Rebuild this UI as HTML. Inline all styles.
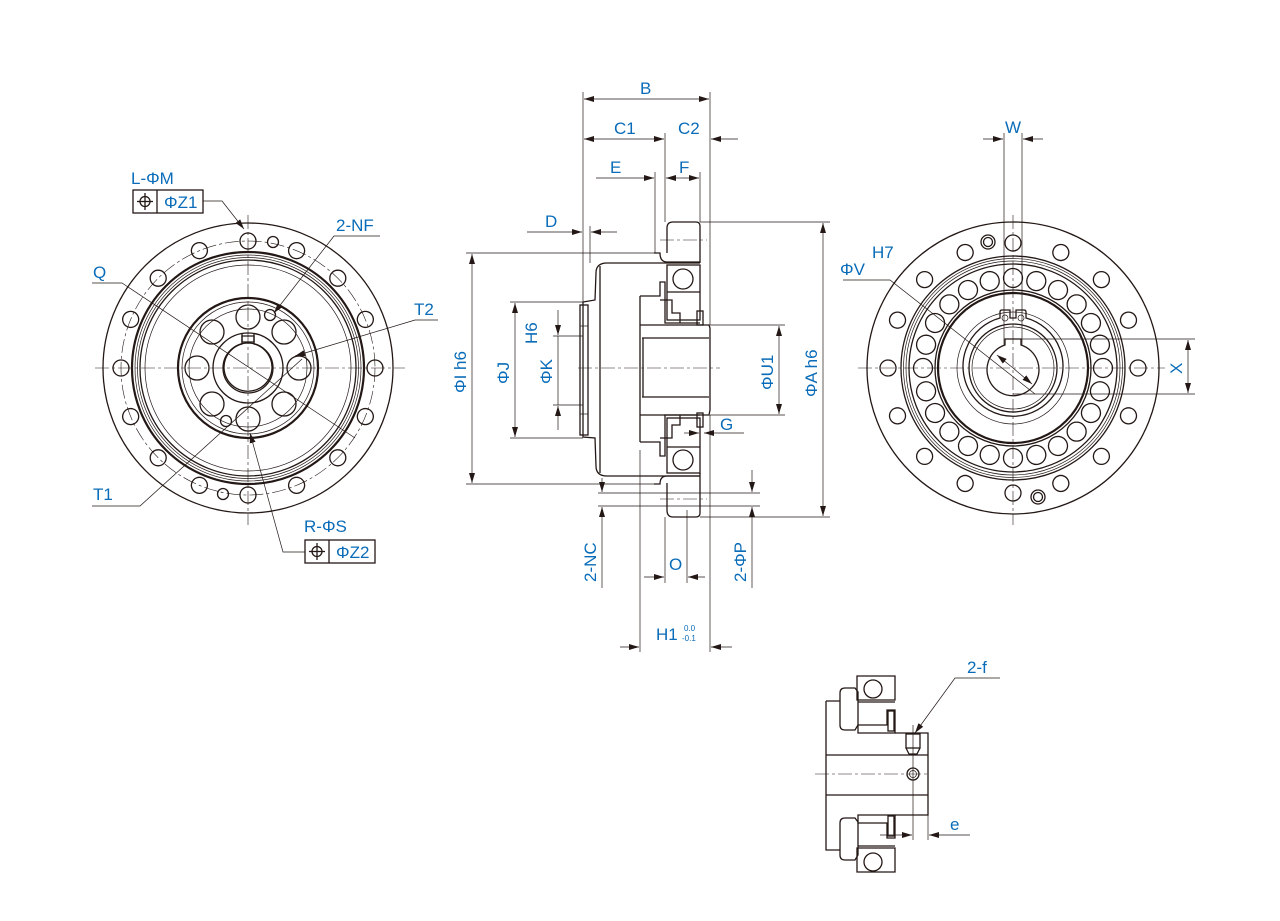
<!DOCTYPE html>
<html><head><meta charset="utf-8"><style>
html,body{margin:0;padding:0;background:#fff;}
svg{display:block}
text{font-family:"Liberation Sans",sans-serif;fill:#0a6cb8;font-size:17px}
.k{stroke:#231815;fill:none;stroke-width:1.3}
.t{stroke:#231815;fill:none;stroke-width:0.7}
.th{stroke:#231815;fill:none;stroke-width:2.2}
.c{stroke:#231815;fill:none;stroke-width:0.6;stroke-dasharray:14 3 3 3}
.d{stroke:#231815;stroke-width:0.7;fill:none}
.a{fill:#231815}
</style></head><body>
<svg width="1280" height="921" viewBox="0 0 1280 921" xmlns="http://www.w3.org/2000/svg">
<defs>
<marker id="ar" viewBox="0 0 10 6" refX="10" refY="3" markerWidth="10" markerHeight="6" orient="auto-start-reverse" markerUnits="userSpaceOnUse"><path d="M0,0 L10,3 L0,6z" fill="#231815"/></marker>
</defs>

<!-- ============ LEFT VIEW ============ -->
<g>
<line class="c" x1="95" y1="368" x2="405" y2="368"/>
<line class="c" x1="248" y1="215" x2="248" y2="525"/>
<circle class="k" cx="248" cy="368" r="145"/>
<circle class="c" cx="248" cy="368" r="127"/>
<g class="k">
<circle cx="248" cy="241" r="8"/>
<g transform="rotate(22.5 248 368)"><circle cx="248" cy="241" r="8"/></g>
<g transform="rotate(45 248 368)"><circle cx="248" cy="241" r="8"/></g>
<g transform="rotate(67.5 248 368)"><circle cx="248" cy="241" r="8"/></g>
<g transform="rotate(90 248 368)"><circle cx="248" cy="241" r="8"/></g>
<g transform="rotate(112.5 248 368)"><circle cx="248" cy="241" r="8"/></g>
<g transform="rotate(135 248 368)"><circle cx="248" cy="241" r="8"/></g>
<g transform="rotate(157.5 248 368)"><circle cx="248" cy="241" r="8"/></g>
<g transform="rotate(180 248 368)"><circle cx="248" cy="241" r="8"/></g>
<g transform="rotate(202.5 248 368)"><circle cx="248" cy="241" r="8"/></g>
<g transform="rotate(225 248 368)"><circle cx="248" cy="241" r="8"/></g>
<g transform="rotate(247.5 248 368)"><circle cx="248" cy="241" r="8"/></g>
<g transform="rotate(270 248 368)"><circle cx="248" cy="241" r="8"/></g>
<g transform="rotate(292.5 248 368)"><circle cx="248" cy="241" r="8"/></g>
<g transform="rotate(315 248 368)"><circle cx="248" cy="241" r="8"/></g>
<g transform="rotate(337.5 248 368)"><circle cx="248" cy="241" r="8"/></g>
<circle cx="273" cy="242" r="5.5"/><circle cx="223" cy="494" r="5.5"/>
</g>
<circle class="th" cx="248" cy="368" r="116"/>
<circle class="t" cx="248" cy="368" r="113"/>
<circle class="t" cx="248" cy="368" r="110.5"/>
<circle class="k" cx="248" cy="368" r="108"/>
<circle class="t" cx="248" cy="368" r="103"/>
<circle class="th" cx="248" cy="368" r="70"/>
<circle class="t" cx="248" cy="368" r="66"/>
<circle class="t" cx="248" cy="368" r="59"/>
<g class="k">
<circle cx="248" cy="317" r="12"/><circle cx="248" cy="419" r="12"/>
<circle cx="197" cy="368" r="12"/><circle cx="299" cy="368" r="12"/>
<circle cx="212" cy="332" r="12"/><circle cx="284" cy="332" r="12"/>
<circle cx="212" cy="404" r="12"/><circle cx="284" cy="404" r="12"/>
<circle cx="270" cy="315" r="5.5"/><circle cx="226" cy="421" r="5.5"/>
</g>
<path class="k" d="M242,334 L242,342 L254,342 L254,334"/>
<circle class="k" cx="248" cy="368" r="35"/>
<path class="k" d="M242,344 A24,24 0 1 0 254,344 L254,336 L242,336z"/>
<circle class="k" cx="248" cy="368" r="25"/>
<path class="d" d="M203,201 L222,201 L244,229" marker-end="url(#ar)"/>
<path class="d" d="M380,236 L334,236 L274,313" marker-end="url(#ar)"/>
<path class="d" d="M92,283 L122,283 L355,438"/>
<path class="d" d="M438,320 L415,320 L295,356" marker-end="url(#ar)"/>
<path class="d" d="M92,506 L140,506 L302,359"/>
<path class="d" d="M305,552 L283,552 L250,433" marker-end="url(#ar)"/>
<text x="131" y="184">L-ΦM</text>
<rect class="k" x="133" y="190" width="70" height="23" stroke-width="1"/>
<line class="k" x1="157" y1="190" x2="157" y2="213" stroke-width="1"/>
<circle class="k" cx="145" cy="201.5" r="5" stroke-width="1"/>
<line class="k" x1="137" y1="201.5" x2="153" y2="201.5" stroke-width="1"/>
<line class="k" x1="145" y1="193" x2="145" y2="210" stroke-width="1"/>
<text x="164" y="208">ΦZ1</text>
<text x="336" y="231">2-NF</text>
<text x="93" y="278">Q</text>
<text x="414" y="315">T2</text>
<text x="93" y="500">T1</text>
<text x="304" y="532">R-ΦS</text>
<rect class="k" x="305" y="540" width="70" height="23" stroke-width="1"/>
<line class="k" x1="329" y1="540" x2="329" y2="563" stroke-width="1"/>
<circle class="k" cx="317" cy="551.5" r="5" stroke-width="1"/>
<line class="k" x1="309" y1="551.5" x2="325" y2="551.5" stroke-width="1"/>
<line class="k" x1="317" y1="543" x2="317" y2="560" stroke-width="1"/>
<text x="336" y="558">ΦZ2</text>
</g>

<!-- ============ MIDDLE VIEW ============ -->
<g>
<line class="c" x1="578" y1="368" x2="720" y2="368"/>
<path class="k" d="M667,253 L667,228 Q667,222 673,222 L696,222 Q700,222 700,226 L700,263"/>
<path class="k" d="M667,483 L667,510 Q667,517 673,517 L696,517 Q700,517 700,513 L700,473"/>
<line class="c" x1="660" y1="240" x2="707" y2="240"/>
<line class="c" x1="660" y1="499" x2="707" y2="499"/>
<path class="k" d="M654,253 L660,253 Q660,262 667,262 L700,262"/>
<path class="k" d="M654,484 L660,484 Q660,476 667,476 L700,476"/>
<path class="k" d="M700,263 L607,263 Q596,263 596,273 L595,300 L583,302 L583,437 L595,438 L596,466 Q596,476 607,476 L700,476"/>
<line class="k" x1="600" y1="266" x2="600" y2="473"/>
<rect class="k" x="580" y="305" width="8" height="130"/>
<line class="t" x1="580" y1="326" x2="588" y2="326"/><line class="t" x1="580" y1="414" x2="588" y2="414"/>
<rect class="k" x="667" y="265" width="33" height="55"/>
<circle class="k" cx="683" cy="279" r="10"/>
<line class="k" x1="667" y1="292" x2="700" y2="292"/>
<path class="k" d="M640,296 L660,296 L660,282 L665,282 L665,323 L700,323"/>
<path class="k" d="M660,300 L672,300 L672,313 L680,313 L680,323"/>
<rect class="k" x="697" y="311" width="6" height="14"/>
<rect class="k" x="667" y="418" width="33" height="55"/>
<circle class="k" cx="683" cy="460" r="10"/>
<line class="k" x1="667" y1="447" x2="700" y2="447"/>
<path class="k" d="M640,442 L660,442 L660,456 L665,456 L665,415 L700,415"/>
<path class="k" d="M660,438 L672,438 L672,425 L680,425 L680,415"/>
<rect class="k" x="697" y="413" width="6" height="14"/>
<path class="k" d="M640,296 L640,442"/>
<path class="k" d="M640,325 L709,325 L710,328 L710,410 L709,415 L640,415"/>
<line class="k" x1="642" y1="338" x2="709" y2="338"/>
<line class="k" x1="642" y1="397" x2="709" y2="397"/>
<line class="k" x1="643" y1="338" x2="643" y2="397"/>
<g class="d">
<line x1="583" y1="92" x2="583" y2="302"/>
<line x1="710" y1="92" x2="710" y2="325"/>
<line x1="710" y1="415" x2="710" y2="652"/>
<line x1="665" y1="133" x2="665" y2="222"/>
<line x1="655" y1="172" x2="655" y2="253"/>
<line x1="700" y1="172" x2="700" y2="222"/>
<line x1="590" y1="226" x2="590" y2="263"/>
<line x1="466" y1="253" x2="654" y2="253"/>
<line x1="466" y1="484" x2="654" y2="484"/>
<line x1="510" y1="302" x2="583" y2="302"/>
<line x1="510" y1="438" x2="583" y2="438"/>
<line x1="553" y1="336" x2="583" y2="336"/>
<line x1="553" y1="405" x2="583" y2="405"/>
<line x1="700" y1="222" x2="830" y2="222"/>
<line x1="700" y1="517" x2="830" y2="517"/>
<line x1="710" y1="325" x2="785" y2="325"/>
<line x1="710" y1="415" x2="785" y2="415"/>
<line x1="640" y1="450" x2="640" y2="652"/>
<line x1="665" y1="517" x2="665" y2="583"/>
<line x1="687" y1="510" x2="687" y2="583"/>
<line x1="598" y1="493" x2="760" y2="493"/>
<line x1="598" y1="506" x2="760" y2="506"/>
</g>
<g class="d" marker-end="url(#ar)">
<line x1="646" y1="99" x2="584" y2="99"/><line x1="646" y1="99" x2="709" y2="99"/>
<line x1="624" y1="139" x2="584" y2="139"/><line x1="624" y1="139" x2="664" y2="139"/>
<line x1="738" y1="139" x2="711" y2="139"/>
<line x1="596" y1="178" x2="654" y2="178"/>
<line x1="682" y1="178" x2="666" y2="178"/><line x1="682" y1="178" x2="699" y2="178"/>
<line x1="527" y1="232" x2="582" y2="232"/><line x1="617" y1="232" x2="591" y2="232"/>
<line x1="472" y1="368" x2="472" y2="254"/><line x1="472" y1="368" x2="472" y2="483"/>
<line x1="515" y1="368" x2="515" y2="303"/><line x1="515" y1="368" x2="515" y2="437"/>
<line x1="558" y1="310" x2="558" y2="335"/><line x1="558" y1="430" x2="558" y2="406"/>
<line x1="779" y1="368" x2="779" y2="326"/><line x1="779" y1="368" x2="779" y2="414"/>
<line x1="823" y1="368" x2="823" y2="223"/><line x1="823" y1="368" x2="823" y2="516"/>
<line x1="684" y1="433" x2="699" y2="433"/><line x1="744" y1="433" x2="704" y2="433"/>
<line x1="602" y1="478" x2="602" y2="492"/><line x1="602" y1="588" x2="602" y2="507"/>
<line x1="752" y1="470" x2="752" y2="492"/><line x1="752" y1="588" x2="752" y2="507"/>
<line x1="644" y1="577" x2="664" y2="577"/><line x1="705" y1="577" x2="688" y2="577"/>
<line x1="620" y1="647" x2="639" y2="647"/><line x1="732" y1="647" x2="711" y2="647"/>
</g>
<line class="d" x1="558" y1="336" x2="558" y2="405"/>
<text x="640" y="94">B</text>
<text x="614" y="134">C1</text>
<text x="678" y="134">C2</text>
<text x="610" y="173">E</text>
<text x="679" y="173">F</text>
<text x="545" y="227">D</text>
<text x="720" y="430">G</text>
<text x="669" y="570">O</text>
<text x="656" y="640">H1</text>
<text x="684" y="631" style="font-size:8px">0.0</text>
<text x="682" y="641" style="font-size:8px">-0.1</text>
<text transform="translate(466,393) rotate(-90)">ΦI h6</text>
<text transform="translate(509,384) rotate(-90)">ΦJ</text>
<text transform="translate(537,344) rotate(-90)">H6</text>
<text transform="translate(552,384) rotate(-90)">ΦK</text>
<text transform="translate(773,390) rotate(-90)">ΦU1</text>
<text transform="translate(817,397) rotate(-90)">ΦA h6</text>
<text transform="translate(596,582) rotate(-90)">2-NC</text>
<text transform="translate(746,582) rotate(-90)">2-ΦP</text>
</g>

<!-- ============ RIGHT VIEW ============ -->
<g>
<line class="c" x1="858" y1="368" x2="1165" y2="368"/>
<line class="c" x1="1013" y1="215" x2="1013" y2="525"/>
<circle class="k" cx="1013" cy="368" r="146"/>
<g class="k">
<circle cx="1013" cy="243" r="8"/>
<g transform="rotate(22.5 1013 368)"><circle cx="1013" cy="243" r="8"/></g>
<g transform="rotate(45 1013 368)"><circle cx="1013" cy="243" r="8"/></g>
<g transform="rotate(67.5 1013 368)"><circle cx="1013" cy="243" r="8"/></g>
<g transform="rotate(90 1013 368)"><circle cx="1013" cy="243" r="8"/></g>
<g transform="rotate(112.5 1013 368)"><circle cx="1013" cy="243" r="8"/></g>
<g transform="rotate(135 1013 368)"><circle cx="1013" cy="243" r="8"/></g>
<g transform="rotate(157.5 1013 368)"><circle cx="1013" cy="243" r="8"/></g>
<g transform="rotate(180 1013 368)"><circle cx="1013" cy="243" r="8"/></g>
<g transform="rotate(202.5 1013 368)"><circle cx="1013" cy="243" r="8"/></g>
<g transform="rotate(225 1013 368)"><circle cx="1013" cy="243" r="8"/></g>
<g transform="rotate(247.5 1013 368)"><circle cx="1013" cy="243" r="8"/></g>
<g transform="rotate(270 1013 368)"><circle cx="1013" cy="243" r="8"/></g>
<g transform="rotate(292.5 1013 368)"><circle cx="1013" cy="243" r="8"/></g>
<g transform="rotate(315 1013 368)"><circle cx="1013" cy="243" r="8"/></g>
<g transform="rotate(337.5 1013 368)"><circle cx="1013" cy="243" r="8"/></g>
<circle cx="988" cy="242" r="7"/><circle cx="988" cy="242" r="4.5"/>
<circle cx="1038" cy="497" r="7"/><circle cx="1038" cy="497" r="4.5"/>
</g>
<circle class="k" cx="1013" cy="368" r="112"/>
<circle class="t" cx="1013" cy="368" r="109.5"/>
<circle class="t" cx="1013" cy="368" r="107"/>
<circle class="k" cx="1013" cy="368" r="104"/>
<circle class="k" cx="1013" cy="368" r="78"/>
<circle class="th" cx="1013" cy="368" r="75"/>
<g class="k">
<circle cx="1013" cy="278" r="9.5"/>
<g transform="rotate(15 1013 368)"><circle cx="1013" cy="278" r="9.5"/></g>
<g transform="rotate(30 1013 368)"><circle cx="1013" cy="278" r="9.5"/></g>
<g transform="rotate(45 1013 368)"><circle cx="1013" cy="278" r="9.5"/></g>
<g transform="rotate(60 1013 368)"><circle cx="1013" cy="278" r="9.5"/></g>
<g transform="rotate(75 1013 368)"><circle cx="1013" cy="278" r="9.5"/></g>
<g transform="rotate(90 1013 368)"><circle cx="1013" cy="278" r="9.5"/></g>
<g transform="rotate(105 1013 368)"><circle cx="1013" cy="278" r="9.5"/></g>
<g transform="rotate(120 1013 368)"><circle cx="1013" cy="278" r="9.5"/></g>
<g transform="rotate(135 1013 368)"><circle cx="1013" cy="278" r="9.5"/></g>
<g transform="rotate(150 1013 368)"><circle cx="1013" cy="278" r="9.5"/></g>
<g transform="rotate(165 1013 368)"><circle cx="1013" cy="278" r="9.5"/></g>
<g transform="rotate(180 1013 368)"><circle cx="1013" cy="278" r="9.5"/></g>
<g transform="rotate(195 1013 368)"><circle cx="1013" cy="278" r="9.5"/></g>
<g transform="rotate(210 1013 368)"><circle cx="1013" cy="278" r="9.5"/></g>
<g transform="rotate(225 1013 368)"><circle cx="1013" cy="278" r="9.5"/></g>
<g transform="rotate(240 1013 368)"><circle cx="1013" cy="278" r="9.5"/></g>
<g transform="rotate(255 1013 368)"><circle cx="1013" cy="278" r="9.5"/></g>
<g transform="rotate(270 1013 368)"><circle cx="1013" cy="278" r="9.5"/></g>
<g transform="rotate(285 1013 368)"><circle cx="1013" cy="278" r="9.5"/></g>
<g transform="rotate(300 1013 368)"><circle cx="1013" cy="278" r="9.5"/></g>
<g transform="rotate(315 1013 368)"><circle cx="1013" cy="278" r="9.5"/></g>
<g transform="rotate(330 1013 368)"><circle cx="1013" cy="278" r="9.5"/></g>
<g transform="rotate(345 1013 368)"><circle cx="1013" cy="278" r="9.5"/></g>
</g>
<circle class="t" cx="1013" cy="368" r="56"/>
<path class="k" d="M1000,318 A50,50 0 1 0 1026,318 L1026,312 Q1026,310 1024,310 L1016,310 L1016,318 L1010,318 L1010,310 L1002,310 Q1000,310 1000,312z"/>
<circle class="t" cx="1005" cy="318" r="3"/><circle class="t" cx="1021" cy="318" r="3"/>
<circle class="k" cx="1013" cy="368" r="44"/>
<circle class="t" cx="1013" cy="368" r="41"/>
<path class="k" d="M1005,345 A26,26 0 1 0 1021,345 L1021,339 L1005,339z"/>
<g class="d">
<line x1="1004" y1="133" x2="1004" y2="345"/>
<line x1="1022" y1="133" x2="1022" y2="345"/>
<line x1="1021" y1="339" x2="1195" y2="339"/>
<line x1="1013" y1="394" x2="1195" y2="394"/>
<path d="M843,280 L890,280 L1035,394"/>
</g>
<g class="d" marker-end="url(#ar)">
<line x1="983" y1="139" x2="1003" y2="139"/><line x1="1043" y1="139" x2="1023" y2="139"/>
<line x1="1188" y1="366" x2="1188" y2="340"/><line x1="1188" y1="366" x2="1188" y2="393"/>
<line x1="1013" y1="368" x2="997" y2="355"/><line x1="1013" y1="368" x2="1032" y2="384"/>
</g>
<text x="1005" y="133">W</text>
<text x="872" y="258">H7</text>
<text x="840" y="275">ΦV</text>
<text transform="translate(1182,374) rotate(-90)">X</text>
</g>

<!-- ============ BOTTOM DETAIL ============ -->
<g>
<line class="c" x1="815" y1="774" x2="930" y2="774"/>
<path class="k" d="M857,676 L895,676 L895,700 L857,700z"/>
<circle class="k" cx="873" cy="689" r="9"/>
<line class="k" x1="858" y1="702" x2="895" y2="702"/>
<path class="k" d="M845,688 L855,688 L858,692 L858,725 L855,730 L845,730 Q840,730 840,725 L840,693 Q840,688 845,688z"/>
<path class="k" d="M858,725 L887,725 L887,710 L895,710 L895,733 L858,733z"/>
<rect class="k" x="888" y="711" width="6" height="20"/>
<path class="k" d="M826,701 L840,701 M826,701 L826,850 L840,850"/>
<line class="k" x1="826" y1="755" x2="928" y2="755"/>
<line class="k" x1="826" y1="795" x2="928" y2="795"/>
<path class="k" d="M895,733 L928,733 L928,815 L895,815"/>
<rect class="k" x="906" y="734" width="14" height="14"/>
<path class="k" d="M906,748 L909,754 L917,754 L920,748"/>
<circle class="k" cx="913" cy="774" r="6"/><circle class="t" cx="913" cy="774" r="3.5"/>
<line class="t" x1="913" y1="725" x2="913" y2="840"/>
<path class="k" d="M845,818 L855,818 L858,822 L858,855 L855,860 L845,860 Q840,860 840,855 L840,823 Q840,818 845,818z"/>
<path class="k" d="M858,823 L887,823 L887,838 L895,838 L895,815 L858,815z"/>
<rect class="k" x="888" y="816" width="6" height="20"/>
<path class="k" d="M857,848 L895,848 L895,872 L857,872z"/>
<circle class="k" cx="873" cy="862" r="9"/>
<line class="k" x1="858" y1="846" x2="895" y2="846"/>
<line class="d" x1="928" y1="815" x2="928" y2="840"/>
<g class="d" marker-end="url(#ar)">
<line x1="880" y1="835" x2="912" y2="835"/><line x1="970" y1="835" x2="929" y2="835"/>
</g>
<path class="d" d="M1000,678 L955,678 L915,733" marker-end="url(#ar)"/>
<text x="967" y="673">2-f</text>
<text x="950" y="830">e</text>
</g>
</svg>
</body></html>
